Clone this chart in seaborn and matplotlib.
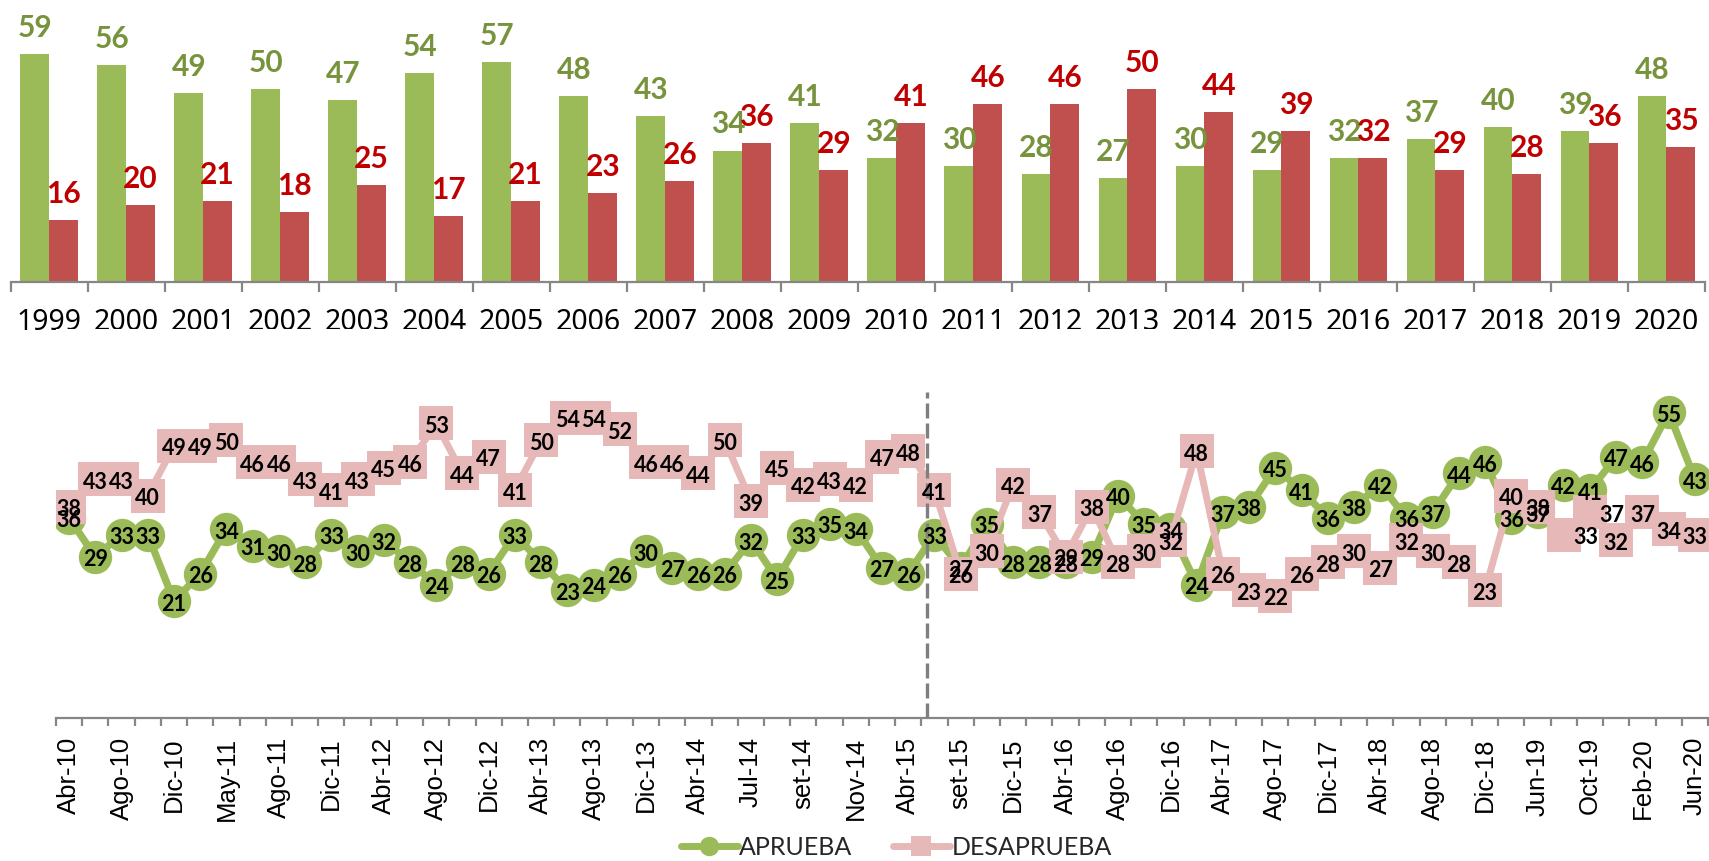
import matplotlib
matplotlib.use("Agg")
import matplotlib.pyplot as plt
from matplotlib.lines import Line2D
import numpy as np
import pandas as pd
import seaborn as sns

# ---------------- data ----------------
years = [str(y) for y in range(1999, 2021)]
aprueba_annual = [59, 56, 49, 50, 47, 54, 57, 48, 43, 34, 41, 32, 30, 28, 27, 30, 29, 32, 37, 40, 39, 48]
desaprueba_annual = [16, 20, 21, 18, 25, 17, 21, 23, 26, 36, 29, 41, 46, 46, 50, 44, 39, 32, 29, 28, 36, 35]

aprueba_poll = [36, 29, 33, 33, 21, 26, 34, 31, 30, 28, 33, 30, 32, 28, 24, 28, 26, 33, 28, 23, 24, 26,
                30, 27, 26, 26, 32, 25, 33, 35, 34, 27, 26, 33,
                27, 35, 28, 28, 28, 29, 40, 35, 34, 24, 37, 38, 45, 41, 36, 38, 42, 36, 37, 44, 46,
                36, 37, 42, 41, 47, 46, 55, 43]
desaprueba_poll = [38, 43, 43, 40, 49, 49, 50, 46, 46, 43, 41, 43, 45, 46, 53, 44, 47, 41, 50, 54, 54, 52,
                   46, 46, 44, 50, 39, 45, 42, 43, 42, 47, 48, 41,
                   26, 30, 42, 37, 29, 38, 28, 30, 32, 48, 26, 23, 22, 26, 28, 30, 27, 32, 30, 28, 23,
                   40, 38, 33, 37, 32, 37, 34, 33]
poll_tick_labels = ["Abr-10", "Ago-10", "Dic-10", "May-11", "Ago-11", "Dic-11", "Abr-12", "Ago-12",
                    "Dic-12", "Abr-13", "Ago-13", "Dic-13", "Abr-14", "Jul-14", "set-14", "Nov-14",
                    "Abr-15", "set-15", "Dic-15", "Abr-16", "Ago-16", "Dic-16", "Abr-17", "Ago-17",
                    "Dic-17", "Abr-18", "Ago-18", "Dic-18", "Jun-19", "Oct-19", "Feb-20", "Jun-20"]
series_names = ["APRUEBA", "DESAPRUEBA"]

# ---------------- style ----------------
GREEN = "#9BBB59"
RED = "#C0504D"
PINK = "#E6B9B8"
GREEN_TXT = "#77933C"
RED_TXT = "#C00000"
AXIS_GRAY = "#868686"

sns.set_theme(style="white")
plt.rcParams["font.family"] = ["DejaVu Sans"]

W, H = 1709, 862
fig = plt.figure(figsize=(W / 100, H / 100), dpi=100)


def ax_rect(l, t, r, b):
    return [l / W, 1 - b / H, (r - l) / W, (b - t) / H]


ax1 = fig.add_axes(ax_rect(10.7, 0, 1705, 283))
ax2 = fig.add_axes(ax_rect(56, 330, 1708, 719))

# ---------------- top: annual bars ----------------
df = pd.DataFrame({
    "year": years * 2,
    "value": aprueba_annual + desaprueba_annual,
    "series": [series_names[0]] * len(years) + [series_names[1]] * len(years),
})
sns.barplot(data=df, x="year", y="value", hue="series", hue_order=series_names,
            palette=[GREEN, RED], width=0.75, saturation=1, linewidth=0,
            legend=False, ax=ax1)

for cont, txtcol in zip(ax1.containers, [GREEN_TXT, RED_TXT]):
    for bar in cont:
        h = bar.get_height()
        ax1.annotate(f"{int(round(h))}", (bar.get_x() + bar.get_width() / 2, h),
                     xytext=(0, 13), textcoords="offset points",
                     ha="center", va="baseline", color=txtcol,
                     fontsize=21.5, fontweight="bold", family=["Lato", "DejaVu Sans"])

ax1.set_xlim(-0.5, len(years) - 0.5)
ax1.set_ylim(0, 73.2)
ax1.set_xlabel("")
ax1.set_ylabel("")
ax1.set_yticks([])
for s in ["left", "right", "top"]:
    ax1.spines[s].set_visible(False)
ax1.spines["bottom"].set_color(AXIS_GRAY)
ax1.spines["bottom"].set_linewidth(1.6)
ax1.set_xticks(np.arange(-0.5, len(years), 1), minor=True)
ax1.tick_params(axis="x", which="minor", length=7.2, width=1.6, color=AXIS_GRAY, bottom=True)
ax1.tick_params(axis="x", which="major", length=0, pad=18, bottom=True)
for lab in ax1.get_xticklabels():
    lab.set_fontsize(20.5)
    lab.set_family(["Noto Sans", "DejaVu Sans"])
    lab.set_color("black")

# ---------------- bottom: polling lines ----------------
x_idx = np.arange(len(aprueba_poll))
sns.lineplot(x=x_idx, y=aprueba_poll, ax=ax2, color=GREEN, linewidth=5.3,
             marker="o", markersize=24, markeredgewidth=0, zorder=3, legend=False)
sns.lineplot(x=x_idx, y=desaprueba_poll, ax=ax2, color=PINK, linewidth=5.0,
             marker="s", markersize=24, markeredgewidth=0, zorder=4, legend=False)

# dashed separator
ax2.plot([32.73, 32.73], [0, 58.6], color="#7F7F7F", linewidth=2.4,
         dashes=(4.5, 1.5), zorder=5)

label_font = dict(fontsize=15.5, fontweight="bold", family=["Lato", "DejaVu Sans"],
                  color="black", ha="center", va="center_baseline", zorder=6)
desaprueba_label_shift = {57: 0.85, 58: 0.85}
for i, v in enumerate(aprueba_poll):
    ax2.text(i, v, str(v), **label_font)
for i, v in enumerate(desaprueba_poll):
    ax2.text(i + desaprueba_label_shift.get(i, 0), v, str(v), **label_font)

ax2.set_xlim(-0.5, len(aprueba_poll) - 0.5)
ax2.set_ylim(0, 70)
ax2.set_xlabel("")
ax2.set_ylabel("")
ax2.set_yticks([])
for s in ["left", "right", "top"]:
    ax2.spines[s].set_visible(False)
ax2.spines["bottom"].set_color(AXIS_GRAY)
ax2.spines["bottom"].set_linewidth(1.6)
ax2.set_xticks(np.arange(0, len(aprueba_poll), 2))
ax2.set_xticklabels(poll_tick_labels, rotation=90, fontsize=18.5,
                    family=["Liberation Sans", "DejaVu Sans"], color="black")
ax2.set_xticks(np.arange(-0.5, len(aprueba_poll), 1), minor=True)
ax2.tick_params(axis="x", which="minor", length=5.8, width=1.6, color=AXIS_GRAY, bottom=True)
ax2.tick_params(axis="x", which="major", length=0, pad=13, bottom=True)

# legend
handles = [
    Line2D([0], [0], color=GREEN, lw=5, marker="o", markersize=14, markeredgewidth=0),
    Line2D([0], [0], color=PINK, lw=5, marker="s", markersize=14, markeredgewidth=0),
]
fig.legend(handles=handles, labels=series_names, loc="center",
           bbox_to_anchor=(896 / W, 1 - 848 / H), ncol=2, frameon=False,
           handlelength=2.3, handletextpad=0.05, columnspacing=1.6,
           prop={"family": ["Lato", "DejaVu Sans"], "size": 18})

fig.savefig("out.png", dpi=100, facecolor="white")
